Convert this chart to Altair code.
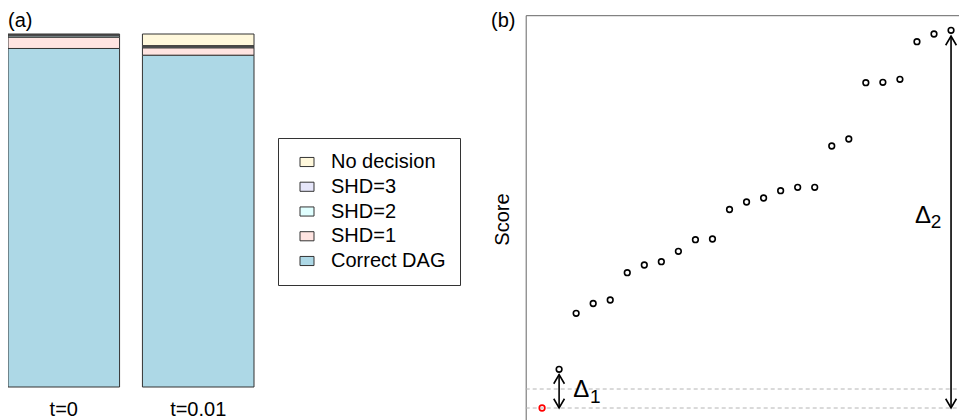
import altair as alt
import pandas as pd

FONT = "Liberation Sans, Arial, Helvetica, sans-serif"

# ---------------- data ----------------
# panel (a): share of runs (%) per outcome, stacked bottom -> top
settings = ["t=0", "t=0.01"]
outcomes = ["Correct DAG", "SHD=1", "SHD=2", "SHD=3", "No decision"]
legend_order = ["No decision", "SHD=3", "SHD=2", "SHD=1", "Correct DAG"]
share_t0 = [95.9, 3.2, 0.4, 0.3, 0.2]
share_t001 = [94.0, 2.1, 0.3, 0.3, 3.3]
outcome_colors = ["#fff8dc", "#e6e6fa", "#e0ffff", "#ffe4e1", "#add8e6"]  # legend order

# panel (b): sorted scores of the candidate graphs (first one highlighted)
scores = [0.0, 38.7, 94.7, 104.5, 108.0, 135.3, 143.0, 146.3, 156.7, 168.3,
          169.0, 198.5, 206.0, 210.0, 217.3, 220.7, 220.7, 262.0, 269.0,
          325.3, 325.7, 328.7, 366.3, 374.0, 377.7]
threshold_levels = [0.0, 19.0]
arrow_index = [2, 25]
arrow_from = [33.5, 372.0]
arrow_to = [0.0, 0.0]
delta_text = ["\u0394", "\u0394"]
delta_index = [2.833, 22.886]
delta_score = [10.7, 185.3]
subscript_text = ["1", "2"]
subscript_index = [3.813, 23.807]
subscript_score = [5.3, 180.3]

X_MIN, X_MAX = 0.04, 25.96
Y_MIN, Y_MAX = -15.1, 392.8

# ---------------- panel (a) ----------------
rows = []
for s, vals in zip(settings, [share_t0, share_t001]):
    for k, (o, v) in enumerate(zip(outcomes, vals)):
        rows.append({"setting": s, "outcome": o, "share": v, "rank": k})
bar_df = pd.DataFrame(rows)

RECT = "M-1,-0.65L1,-0.65L1,0.65L-1,0.65Z"

bars = alt.Chart(bar_df).mark_bar(stroke="#333333", strokeWidth=1).encode(
    x=alt.X("setting:N", sort=settings,
            scale=alt.Scale(type="band", range=[0, 246], paddingInner=0.17, paddingOuter=0),
            axis=alt.Axis(orient="bottom", offset=-4.5, domain=False, ticks=False, tickSize=0,
                          grid=False, labelPadding=0, labelAngle=0, labelFontSize=20,
                          labelFont=FONT, labelColor="black", labelBaseline="alphabetic",
                          title="(a)", titleX=-0.5, titleY=-389, titleAlign="left",
                          titleBaseline="alphabetic", titleAngle=0, titleFontSize=20,
                          titleFont=FONT, titleFontWeight="normal", titleColor="black")),
    y=alt.Y("share:Q", stack="zero",
            scale=alt.Scale(domain=[0, 100], range=[379, 26], nice=False, zero=False),
            axis=None),
    color=alt.Color("outcome:N",
                    scale=alt.Scale(domain=legend_order, range=outcome_colors),
                    legend=alt.Legend(title=None, orient="none", legendX=270, legendY=130,
                                      direction="vertical", strokeColor="#333333",
                                      fillColor="white", padding=14, symbolType=RECT,
                                      symbolSize=196, symbolStrokeColor="#333333",
                                      symbolStrokeWidth=1, symbolOffset=5,
                                      labelFontSize=20, labelFont=FONT, labelColor="black",
                                      labelOffset=14, rowPadding=4.75, labelLimit=400)),
    order=alt.Order("rank:Q", sort="ascending"),
)

# ---------------- panel (b) ----------------
XB = alt.Scale(domain=[X_MIN, X_MAX], range=[517.7, 959.4], nice=False, zero=False)
YB = alt.Scale(domain=[Y_MIN, Y_MAX], range=[415.1, 7.2], nice=False, zero=False)
AXB_X = alt.Axis(orient="top", offset=-7.2, domain=True, domainColor="#666666", domainWidth=1,
                 labels=False, ticks=False, grid=False, title="(b)", titleX=482.5, titleY=11,
                 titleAlign="left", titleBaseline="alphabetic", titleAngle=0,
                 titleFontSize=20, titleFont=FONT, titleFontWeight="normal", titleColor="black")
AXB_Y = alt.Axis(orient="left", offset=-517.7, domain=True, domainColor="#666666", domainWidth=1,
                 labels=False, ticks=False, grid=False, title="Score", titleX=-17.7, titleY=211,
                 titleAlign="center", titleBaseline="alphabetic", titleAngle=270,
                 titleFontSize=20, titleFont=FONT, titleFontWeight="normal", titleColor="black")


def bx(field):
    return alt.X(field, type="quantitative", scale=XB, axis=AXB_X)


def by(field):
    return alt.Y(field, type="quantitative", scale=YB, axis=AXB_Y)


pts_df = pd.DataFrame({"i": list(range(1, len(scores) + 1)), "score": scores})
thr_df = pd.DataFrame({"i": [X_MIN] * len(threshold_levels),
                       "i_end": [X_MAX] * len(threshold_levels),
                       "score": threshold_levels})
arr_df = pd.DataFrame({"i": arrow_index, "score": arrow_from, "score_end": arrow_to})
dl_df = pd.DataFrame({"i": delta_index, "score": delta_score, "label": delta_text})
sub_df = pd.DataFrame({"i": subscript_index, "score": subscript_score, "label": subscript_text})

UP = "M-0.5,0.866L0,0L0.5,0.866"
DOWN = "M-0.5,-0.866L0,0L0.5,-0.866"

thr = alt.Chart(thr_df).mark_rule(stroke="#b4b4b4", strokeWidth=1, strokeDash=[4, 3]).encode(
    x=bx("i"), x2="i_end", y=by("score"))
shafts = alt.Chart(arr_df).mark_rule(stroke="black", strokeWidth=1.6).encode(
    x=bx("i"), y=by("score"), y2="score_end")
heads_up = alt.Chart(arr_df).mark_point(shape=UP, size=458, filled=False, stroke="black",
                                        strokeWidth=1.6, opacity=1).encode(
    x=bx("i"), y=by("score"))
heads_down = alt.Chart(arr_df).mark_point(shape=DOWN, size=458, filled=False, stroke="black",
                                          strokeWidth=1.6, opacity=1).encode(
    x=bx("i"), y=by("score_end"))
points = alt.Chart(pts_df).mark_point(shape="circle", size=32, filled=False, strokeWidth=1.6,
                                      opacity=1).encode(
    x=bx("i"), y=by("score"),
    stroke=alt.condition(alt.datum.i == 1, alt.value("#ff0000"), alt.value("black")))
deltas = alt.Chart(dl_df).mark_text(align="left", baseline="alphabetic", fontSize=24,
                                    font=FONT, color="black").encode(
    x=bx("i"), y=by("score"), text="label:N")
subs = alt.Chart(sub_df).mark_text(align="left", baseline="alphabetic", fontSize=19,
                                   font=FONT, color="black").encode(
    x=bx("i"), y=by("score"), text="label:N")

panel_b = alt.layer(thr, shafts, points, heads_up, heads_down, deltas, subs)

chart = alt.layer(bars, panel_b).resolve_scale(
    x="independent", y="independent"
).properties(
    width=951, height=412, padding=0,
    autosize=alt.AutoSizeParams(type="none"),
).configure(font=FONT).configure_view(strokeWidth=0)

chart.save("out.html", embed_options={"renderer": "svg", "actions": False})
